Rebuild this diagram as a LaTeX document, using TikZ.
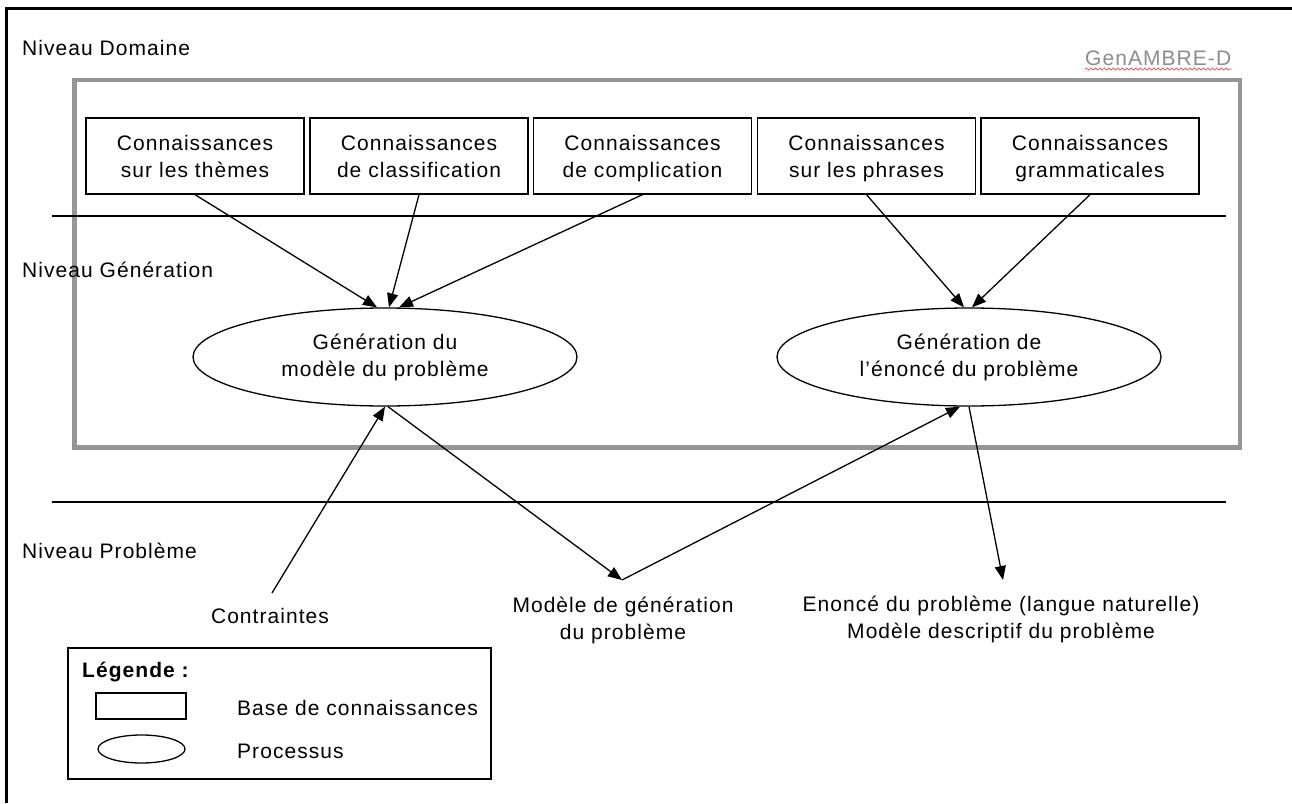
\documentclass[tikz,border=0pt]{standalone}
\usepackage{fontspec}
\setmainfont{Liberation Sans}[LetterSpace=5]
\usetikzlibrary{shapes.geometric,arrows.meta,decorations.pathmorphing}
\definecolor{framegray}{RGB}{150,150,150}
\definecolor{txtgray}{RGB}{140,140,140}
\tikzset{
  every node/.style={font=\fontsize{21}{27}\selectfont, inner sep=0pt},
  kbox/.style={draw, line width=1.3pt, minimum width=218pt, minimum height=76pt, align=center},
  proc/.style={draw, ellipse, line width=1.3pt, minimum width=384pt, minimum height=98pt, align=center},
  lbl/.style={align=center},
  arr/.style={line width=1.3pt, -{Triangle[length=14pt,width=11pt]}},
  sep/.style={line width=1.3pt},
}
\begin{document}
\begin{tikzpicture}[x=1pt,y=-1pt]
\useasboundingbox (0,0) rectangle (1292,803);
% outer frame (left and top edges)
\draw[line width=2.7pt] (6.5,803) -- (6.5,8.5) -- (1292,8.5);
% gray domain frame
\draw[framegray, line width=4.5pt] (74.5,80) rectangle (1240,447.5);
% level separators
\draw[sep] (52,216) -- (1226,216);
\draw[sep] (52,502) -- (1226,502);
% level labels
\node[anchor=base west] (nd) at (22,55) {Niveau Domaine};
\node[anchor=base west] (ng) at (22,277) {Niveau Génération};
\node[anchor=base west] (np) at (22,558) {Niveau Problème};
\node[anchor=base west, text=txtgray] (gen) at (1085,65) {GenAMBRE-D};
\draw[red!85, line width=0.6pt, decorate, decoration={snake, amplitude=1.1pt, segment length=4.5pt}]
  ([yshift=-4pt]gen.base west) -- ([yshift=-4pt]gen.base east);
% knowledge bases
\node[kbox] (b1) at (195,156) {Connaissances\\\smash{sur les thèmes}};
\node[kbox] (b2) at (419,156) {Connaissances\\\smash{de classification}};
\node[kbox] (b3) at (642.5,156) {Connaissances\\\smash{de complication}};
\node[kbox] (b4) at (866.5,156) {Connaissances\\\smash{sur les phrases}};
\node[kbox] (b5) at (1090,156) {Connaissances\\\smash{grammaticales}};
% processes
\node[proc] (e1) at (385,357) {Génération du\\modèle du problème};
\node[proc] (e2) at (969,357) {Génération de\\l’énoncé du problème};
% problem level texts
\node[lbl, anchor=north] (c) at (270,608) {Contraintes};
\node[lbl, anchor=north] (m) at (623,597) {Modèle de génération\\du problème};
\node[lbl, anchor=north] (en) at (1001,596) {Enoncé du problème (langue naturelle)\\Modèle descriptif du problème};
% arrows
\draw[arr] (b1.south) -- ([xshift=-8pt]e1.north);
\draw[arr] (b2.south) -- ([xshift=4pt]e1.north);
\draw[arr] (b3.south) -- ([xshift=14pt]e1.north);
\draw[arr] (b4.south) -- ([xshift=-5pt]e2.north);
\draw[arr] (b5.south) -- ([xshift=3pt]e2.north);
\draw[arr] ([xshift=2pt,yshift=15pt]c.north) -- (e1.south);
\draw[arr] ([xshift=3pt]e1.south) -- ([xshift=-1pt,yshift=17pt]m.north);
\draw[arr] ([xshift=-1pt,yshift=17pt]m.north) -- ([xshift=-9pt]e2.south);
\draw[arr] (e2.south) -- ([xshift=2pt,yshift=16pt]en.north);
% legend
\node[draw, line width=1.3pt, minimum width=423pt, minimum height=131pt] (leg) at (279.5,713.5) {};
\node[anchor=base west, font=\fontsize{21}{27}\selectfont\bfseries] (lt) at (82,677) {Légende :};
\node[draw, line width=1.3pt, minimum width=90pt, minimum height=26pt] (lr) at (141,706) {};
\node[draw, ellipse, line width=1.3pt, minimum width=87pt, minimum height=28pt] (le) at (141.5,749) {};
\node[anchor=base west] (lrt) at (237,715) {Base de connaissances};
\node[anchor=base west] (let) at (237,758) {Processus};
\end{tikzpicture}
\end{document}
